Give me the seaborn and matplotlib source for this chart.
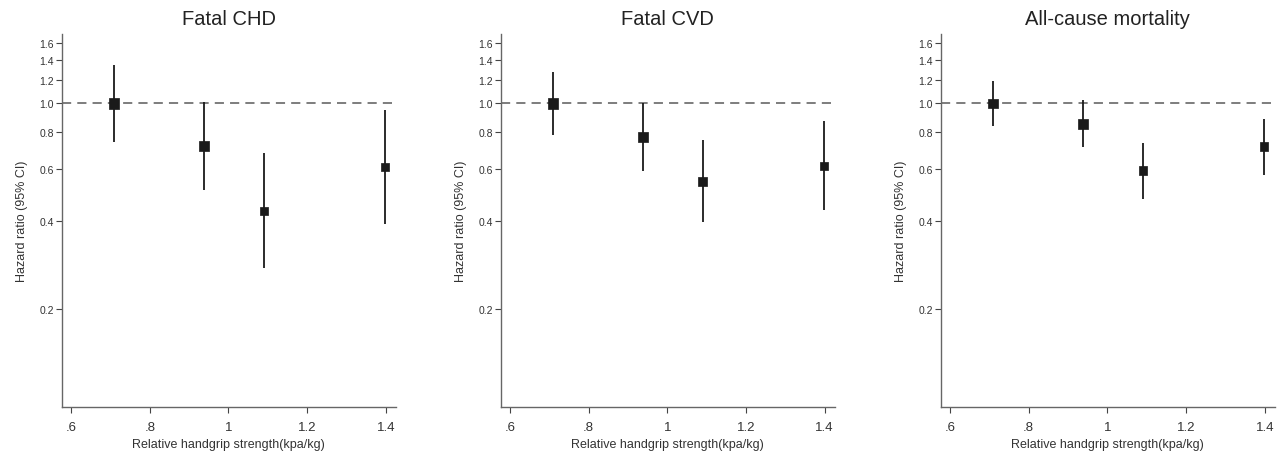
import numpy as np
import pandas as pd
import matplotlib
matplotlib.use("Agg")
import matplotlib.pyplot as plt
from matplotlib.ticker import FixedLocator, NullLocator
import seaborn as sns

# -------------------------------
# DATA
# -------------------------------
titles = ["Fatal CHD", "Fatal CVD", "All-cause mortality"]
grip = [0.709, 0.938, 1.09, 1.398]

chd_hr = [1.00, 0.716, 0.432, 0.608]
chd_lo = [0.737, 0.508, 0.276, 0.389]
chd_hi = [1.356, 1.01, 0.680, 0.949]

cvd_hr = [1.00, 0.769, 0.545, 0.613]
cvd_lo = [0.783, 0.589, 0.397, 0.434]
cvd_hi = [1.277, 1.00, 0.751, 0.869]

allc_hr = [1.00, 0.851, 0.593, 0.713]
allc_lo = [0.838, 0.711, 0.475, 0.573]
allc_hi = [1.19, 1.024, 0.736, 0.887]

# marker areas (weights) per panel
chd_size = [56, 52, 30, 38]
cvd_size = [56, 52, 42, 38]
allc_size = [48, 48, 38, 38]

y_ticks = [0.2, 0.4, 0.6, 0.8, 1.0, 1.2, 1.4, 1.6]
x_ticks = [0.6, 0.8, 1.0, 1.2, 1.4]
x_ticklabels = [".6", ".8", "1", "1.2", "1.4"]

panels = [
    (chd_hr, chd_lo, chd_hi, chd_size),
    (cvd_hr, cvd_lo, cvd_hi, cvd_size),
    (allc_hr, allc_lo, allc_hi, allc_size),
]

# -------------------------------
# STYLE
# -------------------------------
sns.set_style("white")
plt.rcParams["font.family"] = ["Liberation Sans", "DejaVu Sans"]

fig = plt.figure(figsize=(12.77, 4.52), dpi=100)
lefts = [0.0486, 0.3923, 0.7369]
width = 0.2612
bottom = 0.0973
height = 0.825

for i, (hr, lo, hi, sz) in enumerate(panels):
    ax = fig.add_axes([lefts[i], bottom, width, height])
    df = pd.DataFrame({"grip": grip, "hr": hr, "lo": lo, "hi": hi})

    ax.set_yscale("log")
    ax.axhline(1.0, color="#5a5a5a", lw=1.1, ls=(0, (6, 4)), zorder=1)
    ax.vlines(df["grip"], df["lo"], df["hi"], color="#1a1a1a", lw=1.3, zorder=2)
    sns.scatterplot(data=df, x="grip", y="hr", marker="s", s=sz,
                    color="#1a1a1a", edgecolor="#1a1a1a", linewidth=0.5,
                    ax=ax, zorder=3, legend=False)

    ax.set_xlim(0.577, 1.425)
    ax.set_ylim(0.093, 1.72)
    ax.yaxis.set_major_locator(FixedLocator(y_ticks))
    ax.yaxis.set_minor_locator(NullLocator())
    ax.set_yticklabels([f"{t:.1f}" for t in y_ticks], fontsize=7.5, color="#333333")
    ax.set_xticks(x_ticks)
    ax.set_xticklabels(x_ticklabels, fontsize=9.5, color="#333333")

    ax.tick_params(axis="both", which="major", direction="out", length=4,
                   width=0.8, color="#444444", pad=2, left=True, bottom=True)
    ax.tick_params(axis="x", pad=6)

    sns.despine(ax=ax)
    for sp in ["left", "bottom"]:
        ax.spines[sp].set_color("#666666")
        ax.spines[sp].set_linewidth(1.0)

    ax.set_xlabel("Relative handgrip strength(kpa/kg)", fontsize=9, color="#333333", labelpad=4)
    ax.set_ylabel("Hazard ratio (95% CI)", fontsize=9, color="#333333", labelpad=8)
    ax.set_title(titles[i], fontsize=14.5, color="#222222", pad=7)

fig.savefig("out.png", dpi=100)
